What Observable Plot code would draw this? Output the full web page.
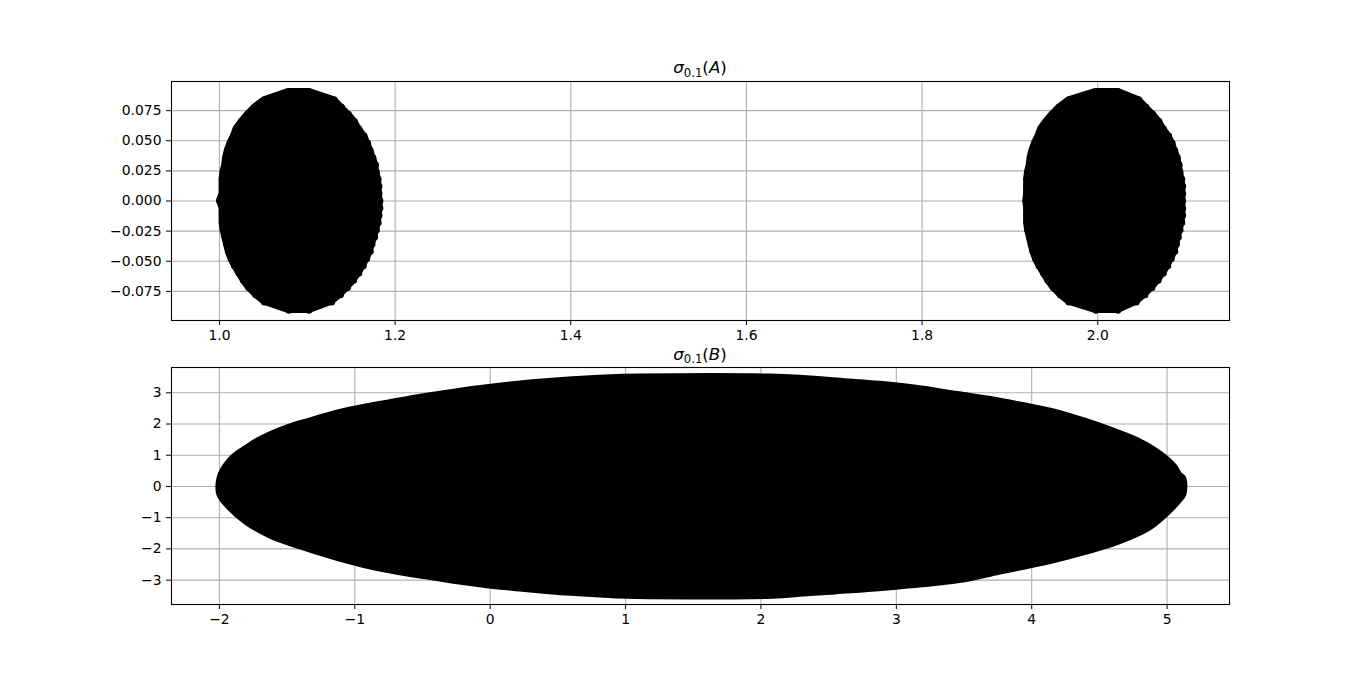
<!DOCTYPE html>
<html><head><meta charset="utf-8">
<script src="https://cdn.jsdelivr.net/npm/d3@7"></script>
<script src="https://cdn.jsdelivr.net/npm/@observablehq/plot@0.6"></script>
<style>
body{margin:0;background:#fff;}
#fig{position:relative;width:1366px;height:679px;background:#fff;font-family:"DejaVu Sans";overflow:hidden;}
.panel{position:absolute;left:0;}
.title{position:absolute;left:600px;width:200px;text-align:center;font-size:16.7px;line-height:20px;color:#000;white-space:nowrap;font-family:"DejaVu Sans";}
.title .sub{font-size:70%;position:relative;top:0.3em;}
</style></head><body><div id="fig"></div>
<script>
// ---- Panel A: sigma_0.1(A) — two blobs, row extents (y, left x, right x) ----
const aY = [0.091, 0.084, 0.078, 0.072, 0.066, 0.060, 0.054, 0.048, 0.042, 0.036, 0.030, 0.024, 0.018, 0.012, 0.006, 0,
  -0.006, -0.012, -0.018, -0.024, -0.030, -0.036, -0.042, -0.048, -0.054, -0.060, -0.066, -0.072, -0.078, -0.084, -0.091];
const aLeft1 = [1.079, 1.051, 1.040, 1.032, 1.025, 1.019, 1.016, 1.012, 1.009, 1.007, 1.006, 1.004, 1.003, 1.003, 1.003, 1.000,
  1.003, 1.003, 1.003, 1.004, 1.006, 1.008, 1.010, 1.013, 1.017, 1.022, 1.027, 1.033, 1.041, 1.051, 1.079];
const aRight1 = [1.102, 1.131, 1.139, 1.147, 1.154, 1.159, 1.165, 1.169, 1.172, 1.175, 1.178, 1.179, 1.181, 1.182, 1.182, 1.183,
  1.183, 1.182, 1.181, 1.179, 1.177, 1.174, 1.172, 1.168, 1.164, 1.159, 1.153, 1.146, 1.138, 1.128, 1.102];
const aLeft2 = [1.998, 1.967, 1.956, 1.948, 1.941, 1.935, 1.932, 1.928, 1.925, 1.923, 1.922, 1.920, 1.919, 1.919, 1.919, 1.918,
  1.919, 1.919, 1.919, 1.920, 1.922, 1.924, 1.926, 1.929, 1.933, 1.938, 1.943, 1.949, 1.957, 1.967, 1.998];
const aRight2 = [2.023, 2.047, 2.055, 2.063, 2.070, 2.075, 2.081, 2.085, 2.088, 2.091, 2.093, 2.094, 2.096, 2.097, 2.097, 2.097,
  2.097, 2.097, 2.096, 2.094, 2.092, 2.090, 2.088, 2.084, 2.080, 2.075, 2.069, 2.062, 2.054, 2.044, 2.023];
const xTicksA = [1.0, 1.2, 1.4, 1.6, 1.8, 2.0];
const yTicksA = [-0.075, -0.050, -0.025, 0, 0.025, 0.050, 0.075];

// ---- Panel B: sigma_0.1(B) — outline of the filled region ----
const bX = [-2.00, -1.963, -1.915, -1.867, -1.808, -1.727, -1.605, -1.483, -1.361, -1.118, -0.872, -0.627, -0.381, -0.134,
  0.112, 0.358, 0.604, 0.850, 1.096, 2.069, 2.290, 2.659, 2.954, 3.200, 3.447, 3.693, 3.939, 4.180, 4.424, 4.546, 4.668,
  4.790, 4.908, 4.980, 5.052, 5.090, 5.12, 5.12,
  5.08, 4.996, 4.860, 4.634, 4.402, 4.173, 3.940, 3.756, 3.479, 3.014, 2.548, 2.317, 2.083, 1.013, 0.781, 0.456, 0.223,
  -0.009, -0.243, -0.475, -0.708, -0.940, -1.169, -1.398, -1.627, -1.808, -1.923, -2.00];
const bY = [0.26, 0.61, 0.88, 1.06, 1.22, 1.45, 1.71, 1.92, 2.08, 2.38, 2.60, 2.79, 2.96, 3.12,
  3.25, 3.35, 3.43, 3.49, 3.52, 3.52, 3.48, 3.36, 3.26, 3.13, 2.96, 2.80, 2.60, 2.38, 2.06, 1.88, 1.68,
  1.46, 1.17, 0.94, 0.64, 0.38, 0.26, -0.25,
  -0.48, -0.86, -1.34, -1.78, -2.09, -2.35, -2.57, -2.73, -2.99, -3.20, -3.36, -3.43, -3.50, -3.50, -3.45, -3.36, -3.27,
  -3.17, -3.04, -2.88, -2.72, -2.51, -2.24, -1.93, -1.57, -1.12, -0.69, -0.25];
const xTicksB = [-2, -1, 0, 1, 2, 3, 4, 5];
const yTicksB = [-3, -2, -1, 0, 1, 2, 3];

const blob1 = aY.map((y, i) => ({y, l: aLeft1[i], r: aRight1[i]}));
const blob2 = aY.map((y, i) => ({y, l: aLeft2[i], r: aRight2[i]}));
const ends = [...blob1, ...blob2].flatMap(d => [{x: d.l, y: d.y}, {x: d.r, y: d.y}]);
const outlineB = bX.map((x, i) => ({x, y: bY[i]}));

const fig = document.getElementById("fig");
const grid = {stroke: "#b0b0b0", strokeOpacity: 1, strokeWidth: 1.1};
const style = {fontFamily: "DejaVu Sans", fontSize: "13.9px", background: "transparent", color: "black", overflow: "visible"};

const blobOpts = {y: "y", x1: "l", x2: "r", fill: "black", stroke: "black", strokeWidth: 6, strokeLinejoin: "round", curve: "linear"};

const plotA = Plot.plot({
  width: 1366, height: 345,
  marginLeft: 171, marginRight: 137, marginTop: 81, marginBottom: 25,
  style,
  x: {domain: [0.9454, 2.1500]},
  y: {domain: [-0.0992, 0.0992]},
  marks: [
    Plot.gridX(xTicksA, grid),
    Plot.gridY(yTicksA, grid),
    Plot.areaX(blob1, blobOpts),
    Plot.areaX(blob2, blobOpts),
    Plot.dot(ends, {x: "x", y: "y", r: 3.2, fill: "black", stroke: "none"}),
    Plot.frame({stroke: "black", strokeWidth: 1.1}),
    Plot.axisX(xTicksA, {tickFormat: d3.format(".1f"), tickSize: 5, tickPadding: 5, label: null}),
    Plot.axisY(yTicksA, {tickFormat: d3.format(".3f"), tickSize: 5, tickPadding: 5, label: null})
  ]
});
plotA.classList.add("panel");
plotA.style.top = "0px";
fig.appendChild(plotA);

const plotB = Plot.plot({
  width: 1366, height: 344,
  marginLeft: 171, marginRight: 137, marginTop: 32, marginBottom: 75,
  style,
  x: {domain: [-2.354, 5.461]},
  y: {domain: [-3.78, 3.81]},
  marks: [
    Plot.gridX(xTicksB, grid),
    Plot.gridY(yTicksB, grid),
    Plot.line(outlineB, {x: "x", y: "y", curve: "catmull-rom-closed", fill: "black", stroke: "black", strokeWidth: 6, strokeLinejoin: "round"}),
    Plot.frame({stroke: "black", strokeWidth: 1.1}),
    Plot.axisX(xTicksB, {tickFormat: d3.format("d"), tickSize: 5, tickPadding: 5, label: null}),
    Plot.axisY(yTicksB, {tickFormat: d3.format("d"), tickSize: 5, tickPadding: 5, label: null})
  ]
});
plotB.classList.add("panel");
plotB.style.top = "335px";
fig.appendChild(plotB);

function addTitle(letter, top) {
  const t = document.createElement("div");
  t.className = "title";
  t.style.top = top + "px";
  t.innerHTML = '<i>σ</i><span class="sub">0.1</span>(<i>' + letter + '</i>)';
  fig.appendChild(t);
}
addTitle("A", 57);
addTitle("B", 343.5);
</script></body></html>
